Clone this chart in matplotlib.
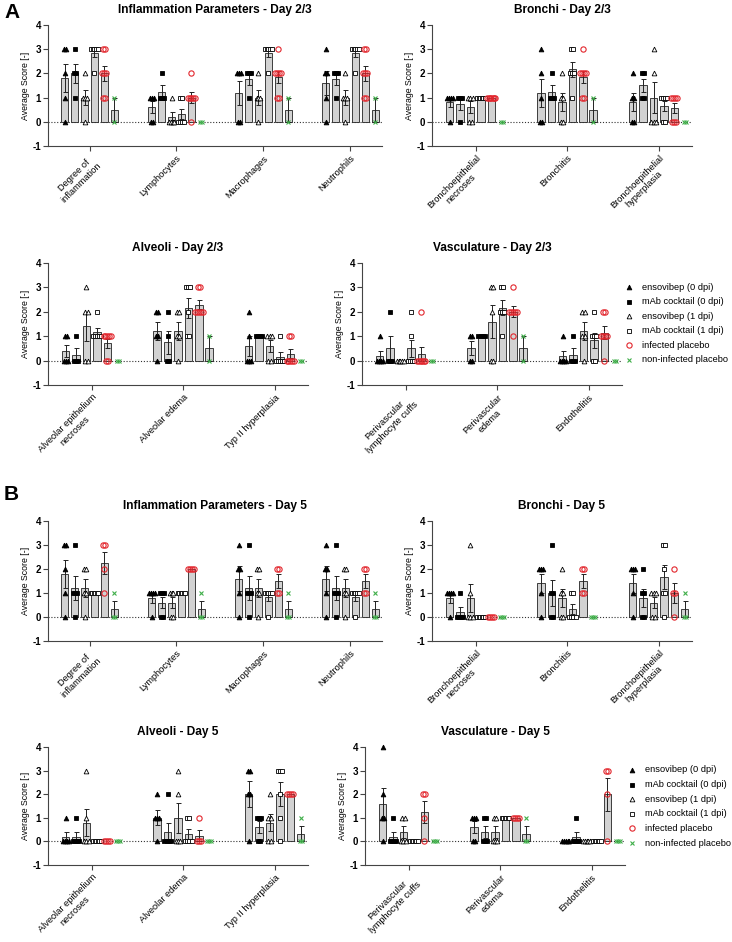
import numpy as np
import matplotlib
matplotlib.use('Agg')
import matplotlib.pyplot as plt
from matplotlib.lines import Line2D

plt.rcParams['font.family'] = ['Liberation Sans', 'DejaVu Sans']

W, H = 732, 942

groups = ['ensovibep (0 dpi)', 'mAb cocktail (0 dpi)', 'ensovibep (1 dpi)',
          'mAb cocktail (1 dpi)', 'infected placebo', 'non-infected placebo']

# ---------------- Day 2/3 ----------------
infl23_cats = ['Degree of\ninflammation', 'Lymphocytes', 'Macrophages', 'Neutrophils']
infl23_degree = [[3, 3, 2, 1, 0], [3, 2, 2, 1], [2, 1, 1, 1, 0], [3, 3, 3, 3, 3, 2], [3, 3, 2, 2, 2, 1, 1], [1, 0]]
infl23_lymph = [[1, 1, 1, 0, 0], [2, 1, 1, 1], [1, 0, 0, 0, 0], [1, 1, 0, 0, 0, 0], [2, 1, 1, 1, 1, 1, 0], [0, 0]]
infl23_macro = [[2, 2, 2, 0, 0], [2, 2, 2, 1], [2, 1, 1, 1, 0], [3, 3, 3, 3, 3, 2], [3, 2, 2, 2, 2, 1, 1], [1, 0]]
infl23_neutro = [[3, 2, 2, 1, 0], [2, 2, 2, 1], [2, 1, 1, 1, 0], [3, 3, 3, 3, 3, 2], [3, 3, 2, 2, 2, 1, 1], [1, 0]]

bron23_cats = ['Bronchoepithelial\nnecroses', 'Bronchitis', 'Bronchoepithelial\nhyperplasia']
bron23_necr = [[1, 1, 1, 1, 0], [1, 1, 1, 0], [1, 1, 1, 0, 0], [1, 1, 1, 1, 1, 1], [1, 1, 1, 1, 1, 1, 1], [0, 0]]
bron23_bronchitis = [[3, 2, 1, 0, 0], [2, 1, 1, 1], [2, 1, 1, 0, 0], [3, 3, 2, 2, 2, 1], [3, 2, 2, 2, 2, 1, 1], [1, 0]]
bron23_hyper = [[2, 1, 1, 0, 0], [2, 2, 1, 1], [3, 2, 0, 0, 0], [1, 1, 1, 1, 0, 0], [1, 1, 1, 1, 0, 0, 0], [0, 0]]

alv23_cats = ['Alveolar epithelium\nnecroses', 'Alveolar edema', 'Typ II hyperplasia']
alv23_necr = [[1, 1, 0, 0, 0], [1, 0, 0, 0], [3, 2, 2, 0, 0], [2, 1, 1, 1, 1, 1], [1, 1, 1, 1, 1, 0, 0], [0, 0]]
alv23_edema = [[2, 2, 1, 1, 0], [2, 1, 0, 0], [2, 2, 1, 1, 0], [3, 3, 3, 2, 1, 1], [3, 3, 2, 2, 2, 2, 2], [1, 0]]
alv23_typ2 = [[2, 1, 0, 0, 0], [1, 1, 1, 1], [1, 1, 1, 0, 0], [1, 0, 0, 0, 0, 0], [1, 1, 0, 0, 0, 0, 0], [0, 0]]

vas23_cats = ['Perivascular\nlymphocyte cuffs', 'Perivascular\nedema', 'Endothelitis']
vas23_cuffs = [[1, 0, 0, 0, 0], [2, 0, 0, 0], [0, 0, 0, 0, 0], [2, 1, 0, 0, 0, 0], [2, 0, 0, 0, 0, 0, 0], [0, 0]]
vas23_edema = [[1, 1, 0, 0], [1, 1, 1, 1], [3, 3, 2, 0, 0], [3, 3, 2, 2, 2, 1], [3, 2, 2, 2, 2, 2, 1], [1, 0]]
vas23_endo = [[1, 0, 0, 0, 0], [1, 0, 0, 0], [2, 2, 1, 1, 0], [2, 1, 1, 1, 0, 0], [2, 2, 1, 1, 1, 1, 0], [0, 0]]

# ---------------- Day 5 ----------------
infl5_cats = ['Degree of\ninflammation', 'Lymphocytes', 'Macrophages', 'Neutrophils']
infl5_degree = [[3, 3, 2, 1, 0], [3, 1, 1, 1, 0], [2, 2, 1, 1, 0], [1, 1, 1, 1, 1, 1], [3, 3, 2, 1], [1, 0, 0]]
infl5_lymph = [[1, 1, 1, 1, 0], [1, 1, 1, 0, 0], [1, 1, 1, 0, 0], [1, 1, 1, 1, 1, 1], [2, 2, 2, 2], [1, 0, 0]]
infl5_macro = [[3, 2, 2, 1, 0], [3, 1, 1, 1, 0], [2, 2, 1, 1, 0], [1, 1, 1, 1, 1, 0], [2, 2, 1, 1], [1, 0, 0]]
infl5_neutro = [[3, 2, 2, 1, 0], [3, 1, 1, 1, 0], [2, 2, 1, 1, 0], [1, 1, 1, 1, 1, 0], [2, 2, 1, 1], [1, 0, 0]]

bron5_cats = ['Bronchoepithelial\nnecroses', 'Bronchitis', 'Bronchoepithelial\nhyperplasia']
bron5_necr = [[1, 1, 1, 1, 0], [1, 0, 0, 0, 0], [3, 1, 0, 0, 0], [0, 0, 0, 0, 0, 0], [0, 0, 0, 0], [0, 0, 0]]
bron5_bronchitis = [[2, 2, 2, 1, 0], [3, 1, 1, 0, 0], [2, 1, 1, 0, 0], [1, 1, 0, 0, 0, 0], [2, 2, 1, 1], [0, 0, 0]]
bron5_hyper = [[2, 2, 2, 1, 0], [2, 1, 1, 0, 0], [1, 1, 1, 0, 0], [3, 3, 2, 1, 1, 0], [2, 1, 1, 0], [1, 0, 0]]

alv5_cats = ['Alveolar epithelium\nnecroses', 'Alveolar edema', 'Typ II hyperplasia']
alv5_necr = [[1, 0, 0, 0, 0], [1, 0, 0, 0, 0], [3, 1, 0, 0, 0], [0, 0, 0, 0, 0, 0], [0, 0, 0, 0], [0, 0, 0]]
alv5_edema = [[2, 1, 1, 1, 0], [2, 0, 0, 0, 0], [3, 2, 0, 0, 0], [1, 1, 0, 0, 0, 0], [1, 0, 0, 0], [0, 0, 0]]
alv5_typ2 = [[3, 3, 2, 2, 0], [1, 1, 1, 0, 0], [2, 1, 1, 0, 0], [3, 3, 3, 2, 1, 0], [2, 2, 2, 2], [1, 0, 0]]

vas5_cats = ['Perivascular\nlymphocyte cuffs', 'Perivascular\nedema', 'Endothelitis']
vas5_cuffs = [[4, 2, 1, 1, 0], [1, 0, 0, 0, 0], [1, 1, 0, 0, 0], [0, 0, 0, 0, 0, 0], [2, 2, 1, 0], [0, 0, 0]]
vas5_edema = [[1, 1, 1, 0, 0], [1, 1, 0, 0, 0], [1, 1, 0, 0, 0], [1, 1, 1, 1, 1, 1], [1, 1, 1, 1], [1, 0, 0]]
vas5_endo = [[0, 0, 0, 0, 0], [1, 0, 0, 0, 0], [0, 0, 0, 0, 0], [0, 0, 0, 0, 0, 0], [3, 3, 2, 0], [0, 0, 0]]

yticks = [-1, 0, 1, 2, 3, 4]

# ---------------- styling ----------------
RED = '#e3262d'
GREEN = '#3fae49'
styles = [
    dict(marker='^', mfc='black', mec='black', ms=3.4, mew=0.6),
    dict(marker='s', mfc='black', mec='black', ms=3.2, mew=0.6),
    dict(marker='^', mfc='white', mec='black', ms=3.4, mew=0.6),
    dict(marker='s', mfc='white', mec='black', ms=3.2, mew=0.6),
    dict(marker='o', mfc='none', mec=RED, ms=3.8, mew=0.8),
    dict(marker='x', mfc='none', mec=GREEN, ms=3.4, mew=0.8),
]

fig = plt.figure(figsize=(W / 100, H / 100), dpi=100)


def rect(l, r, t, b):
    return [l / W, 1 - b / H, (r - l) / W, (b - t) / H]


CAT_SP = 8.8


def panel(r, title, cats, data):
    ax = fig.add_axes(rect(*r))
    centers = np.arange(len(cats)) * CAT_SP
    for c, grp in enumerate(data):
        for g, pts in enumerate(grp):
            x = centers[c] + (g - 2.5) * 1.0
            p = np.asarray(pts, float)
            m = p.mean()
            sem = p.std(ddof=1) / np.sqrt(len(p)) if len(p) > 1 else 0.0
            if m > 0:
                ax.bar(x, m, width=0.72, color='#d2d2d2', edgecolor='#222222',
                       linewidth=0.6, zorder=2)
            if sem > 0:
                ax.errorbar(x, m, yerr=sem, fmt='none', ecolor='#222222',
                            elinewidth=0.7, capsize=1.8, capthick=0.7, zorder=3)
            vals, counts = np.unique(p, return_counts=True)
            for v, k in zip(vals, counts):
                step = min(0.2, 0.9 / k)
                offs = (np.arange(k) - (k - 1) / 2) * step
                ax.plot(x + offs, np.full(k, v), linestyle='none', zorder=4,
                        clip_on=False, **styles[g])
    ax.axhline(0, color='#333333', linestyle=(0, (1, 1.6)), linewidth=0.8, zorder=1)
    ax.set_xlim(centers[0] - 4.2, centers[-1] + 3.2)
    ax.set_ylim(-1, 4)
    ax.set_yticks(yticks)
    ax.set_yticklabels([str(t) for t in yticks], fontsize=7, fontweight='bold')
    ax.set_xticks(centers)
    ax.set_xticklabels(cats, rotation=45, ha='right', rotation_mode='anchor',
                       fontsize=6.7, multialignment='center')
    for s in ['top', 'right']:
        ax.spines[s].set_visible(False)
    for s in ['left', 'bottom']:
        ax.spines[s].set_color('#444444')
        ax.spines[s].set_linewidth(0.8)
    ax.tick_params(axis='both', colors='#444444', length=3.5, width=0.8, pad=1.5,
                   labelcolor='black')
    ax.tick_params(axis='x', pad=2)
    ax.set_ylabel('Average Score [-]', fontsize=6.3, labelpad=2)
    ax.set_title(title, fontsize=8.6, fontweight='bold', pad=9)
    return ax


# Panel A
panel((48, 382, 25, 146), 'Inflammation Parameters - Day 2/3', infl23_cats,
      [infl23_degree, infl23_lymph, infl23_macro, infl23_neutro])
panel((432, 692, 25, 146), 'Bronchi - Day 2/3', bron23_cats,
      [bron23_necr, bron23_bronchitis, bron23_hyper])
panel((48, 308, 263, 385), 'Alveoli - Day 2/3', alv23_cats,
      [alv23_necr, alv23_edema, alv23_typ2])
panel((362, 622, 263, 385), 'Vasculature - Day 2/3', vas23_cats,
      [vas23_cuffs, vas23_edema, vas23_endo])

# Panel B
panel((48, 382, 521, 641), 'Inflammation Parameters - Day 5', infl5_cats,
      [infl5_degree, infl5_lymph, infl5_macro, infl5_neutro])
panel((432, 692, 521, 641), 'Bronchi - Day 5', bron5_cats,
      [bron5_necr, bron5_bronchitis, bron5_hyper])
panel((48, 308, 747, 865), 'Alveoli - Day 5', alv5_cats,
      [alv5_necr, alv5_edema, alv5_typ2])
panel((365, 625, 747, 865), 'Vasculature - Day 5', vas5_cats,
      [vas5_cuffs, vas5_edema, vas5_endo])


def legend(x_marker, x_text, y0, dy):
    for i, name in enumerate(groups):
        y = 1 - (y0 + i * dy) / H
        fig.add_artist(Line2D([x_marker / W], [y], transform=fig.transFigure,
                              linestyle='none', **styles[i]))
        fig.text(x_text / W, y, name, fontsize=6.7, va='center', ha='left')


legend(629, 642, 287, 14.6)
legend(632, 645, 770, 14.6)

fig.text(4 / W, 1 - 12 / H, 'A', fontsize=15, fontweight='bold', va='center')
fig.text(4 / W, 1 - 494 / H, 'B', fontsize=15, fontweight='bold', va='center')

fig.savefig('out.png', dpi=100)
